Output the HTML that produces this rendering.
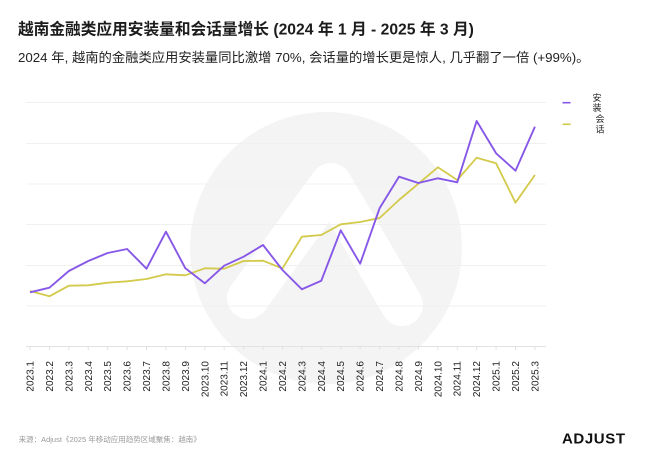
<!DOCTYPE html>
<html>
<head>
<meta charset="utf-8">
<style>
  html,body{margin:0;padding:0;background:#fff;}
  body{width:650px;height:459px;overflow:hidden;}
  svg{display:block;font-family:"Liberation Sans","Noto Sans CJK SC",sans-serif;}
</style>
</head>
<body>
<svg width="650" height="459" viewBox="0 0 650 459" xmlns="http://www.w3.org/2000/svg">
  <rect width="650" height="459" fill="#fff"/>

  <!-- watermark -->
  <circle cx="326" cy="248" r="136" fill="#f4f4f4"/>
  <g stroke="#ffffff" stroke-linecap="round" stroke-linejoin="round" fill="none">
    <polyline points="248,298 331,184 402,305" stroke-width="42"/>
  </g>

  <!-- title -->
  <text x="18" y="34.5" font-size="15.7" font-weight="bold" fill="#1c1c1c">越南金融类应用安装量和会话量增长 (2024 年 1 月 - 2025 年 3 月)</text>
  <text x="18" y="62" font-size="13.3" fill="#222">2024 年, 越南的金融类应用安装量同比激增 70%, 会话量的增长更是惊人, 几乎翻了一倍 (+99%)。</text>

  <!-- gridlines -->
  <g stroke="#f0f0f0" stroke-width="1">
    <line x1="26" y1="102.5" x2="546" y2="102.5"/>
    <line x1="26" y1="143.5" x2="546" y2="143.5"/>
    <line x1="26" y1="184" x2="546" y2="184"/>
    <line x1="26" y1="224.5" x2="546" y2="224.5"/>
    <line x1="26" y1="265.5" x2="546" y2="265.5"/>
    <line x1="26" y1="306" x2="546" y2="306"/>
  </g>
  <line x1="26" y1="346.5" x2="546" y2="346.5" stroke="#e2e2e2" stroke-width="1"/>
  <g stroke="#e2e2e2" stroke-width="1">
    <line x1="30" y1="346.5" x2="30" y2="350"/>
    <line x1="49.42" y1="346.5" x2="49.42" y2="350"/>
    <line x1="68.84" y1="346.5" x2="68.84" y2="350"/>
    <line x1="88.26" y1="346.5" x2="88.26" y2="350"/>
    <line x1="107.68" y1="346.5" x2="107.68" y2="350"/>
    <line x1="127.1" y1="346.5" x2="127.1" y2="350"/>
    <line x1="146.52" y1="346.5" x2="146.52" y2="350"/>
    <line x1="165.94" y1="346.5" x2="165.94" y2="350"/>
    <line x1="185.36" y1="346.5" x2="185.36" y2="350"/>
    <line x1="204.78" y1="346.5" x2="204.78" y2="350"/>
    <line x1="224.2" y1="346.5" x2="224.2" y2="350"/>
    <line x1="243.62" y1="346.5" x2="243.62" y2="350"/>
    <line x1="263.04" y1="346.5" x2="263.04" y2="350"/>
    <line x1="282.46" y1="346.5" x2="282.46" y2="350"/>
    <line x1="301.88" y1="346.5" x2="301.88" y2="350"/>
    <line x1="321.3" y1="346.5" x2="321.3" y2="350"/>
    <line x1="340.72" y1="346.5" x2="340.72" y2="350"/>
    <line x1="360.14" y1="346.5" x2="360.14" y2="350"/>
    <line x1="379.56" y1="346.5" x2="379.56" y2="350"/>
    <line x1="398.98" y1="346.5" x2="398.98" y2="350"/>
    <line x1="418.4" y1="346.5" x2="418.4" y2="350"/>
    <line x1="437.82" y1="346.5" x2="437.82" y2="350"/>
    <line x1="457.24" y1="346.5" x2="457.24" y2="350"/>
    <line x1="476.66" y1="346.5" x2="476.66" y2="350"/>
    <line x1="496.08" y1="346.5" x2="496.08" y2="350"/>
    <line x1="515.5" y1="346.5" x2="515.5" y2="350"/>
    <line x1="534.92" y1="346.5" x2="534.92" y2="350"/>
  </g>

  <!-- series -->
  <polyline fill="none" stroke="#d3ca4c" stroke-width="1.8" stroke-linejoin="round"
    points="30,291 49.42,296.3 68.84,285.7 88.26,285.3 107.68,282.7 127.1,281.3 146.52,279 165.94,274.3 185.36,275.3 204.78,268.3 224.2,268.7 243.62,261 263.04,260.7 282.46,268.5 301.88,236.7 321.3,235 340.72,224.3 360.14,222 379.56,218 398.98,200 418.4,183.7 437.82,167.3 457.24,180 476.66,157.7 496.08,163.3 515.5,202.7 534.92,175"/>
  <polyline fill="none" stroke="#8758e8" stroke-width="1.9" stroke-linejoin="round"
    points="30,292.3 49.42,287.7 68.84,271 88.26,261 107.68,253 127.1,249 146.52,268.7 165.94,231.7 185.36,268.3 204.78,283.3 224.2,265.7 243.62,256.7 263.04,245 282.46,270 301.88,289.3 321.3,280.7 340.72,230.3 360.14,263.7 379.56,208.3 398.98,176.7 418.4,183 437.82,178.3 457.24,182.3 476.66,121 496.08,153.3 515.5,170.7 534.92,126.7"/>

  <!-- x labels -->
  <g font-size="10" fill="#222" text-anchor="end">
    <text transform="translate(33.5,361) rotate(-90)">2023.1</text>
    <text transform="translate(52.92,361) rotate(-90)">2023.2</text>
    <text transform="translate(72.34,361) rotate(-90)">2023.3</text>
    <text transform="translate(91.76,361) rotate(-90)">2023.4</text>
    <text transform="translate(111.18,361) rotate(-90)">2023.5</text>
    <text transform="translate(130.6,361) rotate(-90)">2023.6</text>
    <text transform="translate(150.02,361) rotate(-90)">2023.7</text>
    <text transform="translate(169.44,361) rotate(-90)">2023.8</text>
    <text transform="translate(188.86,361) rotate(-90)">2023.9</text>
    <text transform="translate(208.28,361) rotate(-90)">2023.10</text>
    <text transform="translate(227.7,361) rotate(-90)">2023.11</text>
    <text transform="translate(247.12,361) rotate(-90)">2023.12</text>
    <text transform="translate(266.54,361) rotate(-90)">2024.1</text>
    <text transform="translate(285.96,361) rotate(-90)">2024.2</text>
    <text transform="translate(305.38,361) rotate(-90)">2024.3</text>
    <text transform="translate(324.8,361) rotate(-90)">2024.4</text>
    <text transform="translate(344.22,361) rotate(-90)">2024.5</text>
    <text transform="translate(363.64,361) rotate(-90)">2024.6</text>
    <text transform="translate(383.06,361) rotate(-90)">2024.7</text>
    <text transform="translate(402.48,361) rotate(-90)">2024.8</text>
    <text transform="translate(421.9,361) rotate(-90)">2024.9</text>
    <text transform="translate(441.32,361) rotate(-90)">2024.10</text>
    <text transform="translate(460.74,361) rotate(-90)">2024.11</text>
    <text transform="translate(480.16,361) rotate(-90)">2024.12</text>
    <text transform="translate(499.58,361) rotate(-90)">2025.1</text>
    <text transform="translate(519,361) rotate(-90)">2025.2</text>
    <text transform="translate(538.42,361) rotate(-90)">2025.3</text>
  </g>

  <!-- legend -->
  <line x1="562.5" y1="102.7" x2="570.5" y2="102.7" stroke="#8758e8" stroke-width="1.6"/>
  <line x1="562.5" y1="124.3" x2="570.5" y2="124.3" stroke="#d3ca4c" stroke-width="1.6"/>
  <g font-size="9" fill="#222" text-anchor="middle">
    <text x="597" y="101">安</text>
    <text x="597" y="111">装</text>
    <text x="600" y="122">会</text>
    <text x="600" y="132.5">话</text>
  </g>

  <!-- footer -->
  <text x="18.6" y="442" font-size="7.5" fill="#9a9a9a">来源：Adjust《2025 年移动应用趋势区域聚焦：越南》</text>
  <text x="562" y="443.5" font-size="15" font-weight="bold" fill="#111" letter-spacing="0.6">ADJUST</text>
</svg>
</body>
</html>
